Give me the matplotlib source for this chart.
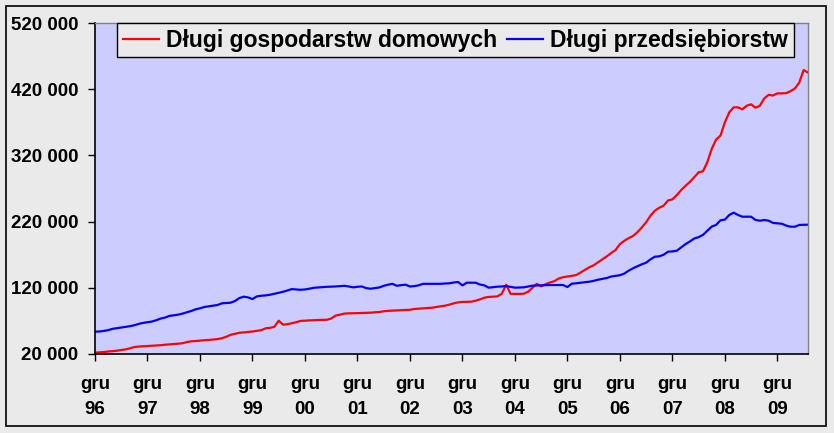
import matplotlib
matplotlib.use("Agg")
import matplotlib.pyplot as plt
from matplotlib.patches import Rectangle
import numpy as np

# Monthly data, Dec 1996 .. Jul 2010 (thousands)
households = [
    22.0, 22.5, 23.0, 23.8, 24.3, 25.0, 26.0, 27.0, 28.6, 30.5, 31.2, 31.6,
    32.0, 32.4, 32.8, 33.3, 34.0, 34.5, 35.0, 35.6, 36.2, 38.0, 39.2, 39.6,
    40.2, 40.8, 41.2, 41.8, 42.5, 43.8, 46.0, 49.0, 50.5, 52.0, 52.6, 53.3,
    54.0, 55.0, 56.0, 58.8, 59.5, 61.0, 70.3, 64.3, 65.0, 66.5, 68.0, 70.0,
    70.3, 70.8, 71.0, 71.4, 71.5, 71.7, 73.5, 78.0, 79.4, 81.0, 81.4, 81.5,
    81.7, 82.0, 82.2, 82.4, 83.0, 83.4, 84.5, 85.2, 85.5, 85.8, 86.0, 86.4,
    86.8, 88.0, 88.5, 89.0, 89.5, 89.9, 91.0, 92.0, 93.0, 94.5, 96.5, 98.0,
    98.6, 98.8, 99.0, 100.5, 102.5, 105.0, 106.2, 106.6, 107.0, 111.0, 124.7, 111.0,
    110.8, 110.8, 111.0, 114.0, 120.0, 126.0, 122.0, 125.5, 128.0, 130.0, 134.0, 136.0,
    137.0, 138.0, 139.3, 143.0, 147.0, 151.0, 154.0, 158.5, 163.0, 167.5, 172.5, 177.0,
    186.0, 191.0, 195.0, 198.2, 204.0, 211.0, 219.0, 229.0, 236.5, 241.0, 244.0, 252.0,
    253.6, 260.0, 267.5, 274.0, 280.0, 287.0, 294.5, 296.0, 310.0, 330.0, 344.0, 350.0,
    370.0, 385.0, 392.6, 392.6, 389.6, 395.0, 397.2, 392.0, 395.0, 406.0, 411.5, 410.5,
    413.7, 413.7, 414.0, 417.0, 421.0, 430.0, 449.0, 445.0,
]
companies = [
    53.7, 54.0, 54.8, 56.0, 58.0, 59.0, 60.0, 61.0, 62.0, 63.5, 65.5, 67.0,
    68.0, 69.0, 71.0, 73.5, 75.0, 77.5, 78.5, 79.4, 81.0, 83.0, 85.0, 87.5,
    89.0, 91.0, 92.0, 93.0, 94.0, 96.5, 97.0, 97.5, 100.0, 104.5, 106.6, 105.5,
    103.0, 107.0, 108.0, 108.5, 109.5, 111.0, 112.5, 114.0, 116.0, 118.0, 117.5, 117.0,
    117.5, 118.6, 120.0, 120.5, 121.0, 121.5, 121.7, 122.0, 122.5, 123.0, 122.0, 120.7,
    121.5, 122.0, 119.5, 118.6, 119.5, 120.5, 123.0, 124.7, 126.0, 123.0, 124.0, 124.7,
    122.0, 122.5, 123.8, 126.0, 126.0, 126.0, 126.0, 126.0, 126.5, 126.8, 128.0, 128.8,
    123.7, 127.7, 127.7, 127.7, 125.0, 123.7, 120.2, 121.0, 121.7, 122.0, 122.7, 121.5,
    120.2, 120.5, 120.7, 122.0, 123.2, 123.5, 123.8, 124.0, 124.2, 124.2, 124.2, 124.2,
    121.2, 126.2, 126.8, 127.7, 128.5, 129.2, 130.5, 132.2, 133.5, 134.8, 137.0, 138.0,
    139.0, 141.5, 145.8, 149.5, 152.5, 155.5, 158.0, 163.0, 167.0, 167.5, 170.0, 174.5,
    175.0, 176.0, 181.0, 186.0, 190.0, 194.5, 196.5, 200.0, 206.3, 212.5, 215.0, 222.0,
    223.0, 230.0, 233.5, 230.0, 227.4, 227.4, 227.4, 222.5, 221.4, 222.4, 221.4, 218.0,
    217.4, 216.8, 214.0, 212.3, 212.3, 214.9, 215.2, 215.3,
]
tick_years = ["96", "97", "98", "99", "00", "01", "02", "03", "04", "05", "06", "07", "08", "09"]
series_labels = ["Długi gospodarstw domowych", "Długi przedsiębiorstw"]
y_ticks = [20000, 120000, 220000, 320000, 420000, 520000]

FONT = ["Liberation Sans", "DejaVu Sans"]
plt.rcParams["font.family"] = FONT

W, H = 834, 433
fig = plt.figure(figsize=(W / 100, H / 100), dpi=100)
bg = "#EAEAEA"
fig.patch.set_facecolor(bg)
fig.patches.append(Rectangle((6 / W, 1 - 426 / H), 820 / W, 420 / H,
                             transform=fig.transFigure, fill=False,
                             edgecolor="black", linewidth=1.2))

ax = fig.add_axes([95 / W, 1 - 354 / H, 713 / W, 331 / H])
ax.set_facecolor("#CCCCFF")

x = np.arange(len(households))
hv = np.array(households) * 1000
cv = np.array(companies) * 1000
ax.plot(x, hv, color="#FF0000", linewidth=1.6, label=series_labels[0])
ax.plot(x, cv, color="#0000FF", linewidth=1.6, label=series_labels[1])

ax.set_xlim(0, len(households) - 1)
ax.set_ylim(20000, 520000)
ax.set_yticks(y_ticks)
ax.set_yticklabels([f"{v:,}".replace(",", " ") for v in y_ticks],
                   fontsize=13.5, fontweight="bold")
ax.set_xticks(np.arange(len(tick_years)) * 12)
ax.set_xticklabels([f"gru\n{y}" for y in tick_years], fontsize=13.5,
                   fontweight="bold", linespacing=1.6)
ax.tick_params(axis="y", length=5, width=1, direction="out", pad=7)
ax.tick_params(axis="x", length=5, width=1, direction="out", pad=11)

for s in ["left", "bottom"]:
    ax.spines[s].set_color("black")
    ax.spines[s].set_linewidth(1.2)
for s in ["top", "right"]:
    ax.spines[s].set_color("#808080")
    ax.spines[s].set_linewidth(1.0)

leg = ax.legend(loc="upper left", bbox_to_anchor=(22 / 713, 1.0), ncol=2,
                borderaxespad=0.0,
                frameon=True, fancybox=False, edgecolor="black",
                facecolor=bg, framealpha=1.0, handlelength=1.6,
                handletextpad=0.3, columnspacing=0.4, borderpad=0.25,
                prop={"size": 16.5, "weight": "bold", "family": FONT})
leg.get_frame().set_linewidth(1.0)

fig.savefig("out.png", dpi=100, facecolor=bg)
